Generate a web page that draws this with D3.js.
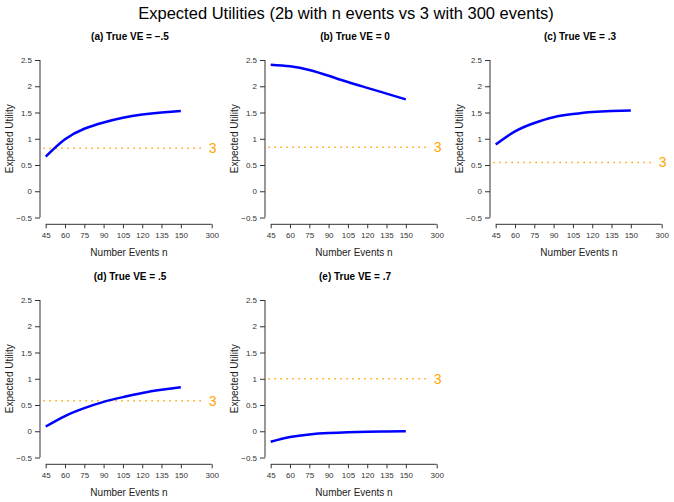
<!DOCTYPE html>
<html>
<head>
<meta charset="utf-8">
<script src="https://cdn.jsdelivr.net/npm/d3@7"></script>
<style>
  body { margin: 0; background: #fff; }
  svg { display: block; font-family: "Liberation Sans", Arial, Helvetica, sans-serif; }
</style>
</head>
<body>
<svg id="chart" width="674" height="502"></svg>
<script>
// ---------- data ----------
const mainTitle = "Expected Utilities (2b with n events vs 3 with 300 events)";
const panelTitles = ["(a) True VE = \u2212.5", "(b) True VE = 0", "(c) True VE = .3", "(d) True VE = .5", "(e) True VE = .7"];
const nEvents = [45, 60, 75, 90, 105, 120, 135, 150];
const eu2bA = [0.66, 0.99, 1.19, 1.31, 1.40, 1.46, 1.50, 1.53];
const eu2bB = [2.41, 2.38, 2.31, 2.20, 2.08, 1.97, 1.86, 1.75];
const eu2bC = [0.89, 1.14, 1.30, 1.41, 1.47, 1.51, 1.53, 1.54];
const eu2bD = [0.09, 0.29, 0.44, 0.56, 0.65, 0.73, 0.79, 0.84];
const eu2bE = [-0.20, -0.11, -0.06, -0.035, -0.02, -0.01, -0.005, 0.0];
const eu3 = [0.82, 0.84, 0.55, 0.58, 1.00];
const xTickLabels = [45, 60, 75, 90, 105, 120, 135, 150, 300];
const yTickValues = [-0.5, 0, 0.5, 1, 1.5, 2, 2.5];
const eu3Label = "3";
const xTitle = "Number Events n";
const yTitle = "Expected Utility";

const series = [eu2bA, eu2bB, eu2bC, eu2bD, eu2bE];

// ---------- layout ----------
const svg = d3.select("#chart");
const colW = 225, rowH = 240;
const breakPos = 174; // axis position at which the "300" tick is drawn
const axisPos = n => (n === 300 ? breakPos : n);

svg.append("text")
  .attr("x", 346).attr("y", 19)
  .attr("text-anchor", "middle")
  .attr("font-size", 16.5)
  .attr("fill", "#000")
  .text(mainTitle);

const x = d3.scaleLinear().domain([45, breakPos]).range([45.7, 211.7]);
const y = d3.scaleLinear().domain([-0.5, 2.5]).range([217.5, 60]);

const line = d3.line()
  .x((d, i) => x(nEvents[i]))
  .y(d => y(d))
  .curve(d3.curveNatural);

series.forEach((vals, k) => {
  const col = k % 3, row = Math.floor(k / 3);
  const g = svg.append("g").attr("transform", `translate(${col * colW},${row * rowH})`);

  // y axis
  const ya = g.append("g").attr("transform", "translate(40,0)")
    .call(d3.axisLeft(y).tickValues(yTickValues).tickSize(5).tickPadding(3)
      .tickFormat(d => (d === -0.5 ? "\u22120.5" : d3.format("")(d))));
  ya.select(".domain").attr("d", `M0,${y(-0.5)}V${y(2.5)}`).attr("stroke", "#333");
  ya.selectAll(".tick line").attr("stroke", "#333");
  ya.selectAll(".tick text").attr("font-size", 8).attr("fill", "#333")
    .attr("font-family", "Liberation Sans, Arial, sans-serif");

  // x axis
  const xa = g.append("g").attr("transform", "translate(0,224.3)")
    .call(d3.axisBottom(x).tickValues(xTickLabels.map(axisPos)).tickSize(4).tickPadding(4)
      .tickFormat((d, i) => xTickLabels[i]));
  xa.select(".domain").attr("d", `M${x(45)},0H${x(breakPos)}`).attr("stroke", "#333");
  xa.selectAll(".tick line").attr("stroke", "#333");
  xa.selectAll(".tick text").attr("font-size", 8).attr("fill", "#333")
    .attr("font-family", "Liberation Sans, Arial, sans-serif");

  // panel title
  g.append("text")
    .attr("x", 130).attr("y", 40)
    .attr("text-anchor", "middle")
    .attr("font-size", 10).attr("font-weight", "bold")
    .text(panelTitles[k]);

  // axis titles
  g.append("text")
    .attr("x", 129).attr("y", 256)
    .attr("text-anchor", "middle").attr("font-size", 10).attr("fill", "#222")
    .text(xTitle);
  g.append("text")
    .attr("transform", `translate(13,${(y(-0.5) + y(2.5)) / 2}) rotate(-90)`)
    .attr("text-anchor", "middle").attr("font-size", 10).attr("fill", "#222")
    .text(yTitle);

  // dotted reference line for design 3
  g.append("line")
    .attr("x1", x(43.2)).attr("x2", x(168.5))
    .attr("y1", y(eu3[k])).attr("y2", y(eu3[k]))
    .attr("stroke", "#FFA500").attr("stroke-width", 1.5)
    .attr("stroke-dasharray", "1.5,4.5");
  g.append("text")
    .attr("x", x(axisPos(300)) + 1).attr("y", y(eu3[k]))
    .attr("dy", "0.36em")
    .attr("text-anchor", "middle").attr("font-size", 14).attr("fill", "#FFA500")
    .text(eu3Label);

  // curve for design 2b
  g.append("path")
    .datum(vals)
    .attr("d", line)
    .attr("fill", "none")
    .attr("stroke", "#0000FF")
    .attr("stroke-width", 2.5);
});
</script>
</body>
</html>
